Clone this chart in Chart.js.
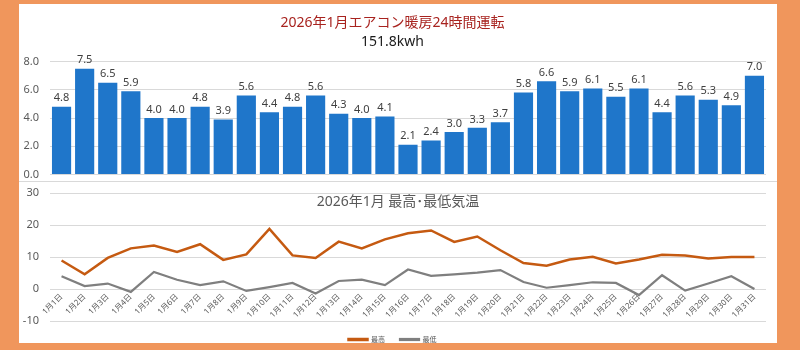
<!DOCTYPE html>
<html><head><meta charset="utf-8">
<script src="https://cdn.jsdelivr.net/npm/chart.js@4"></script>
<style>
html,body{margin:0;padding:0;}
body{width:800px;height:350px;background:#F0965C;position:relative;overflow:hidden;}
#panel{position:absolute;left:19px;top:4px;width:758px;height:339px;background:#fff;}
#c1{position:absolute;left:0;top:0;}
#c2{position:absolute;left:0;top:178px;}
#sep{position:absolute;left:0;top:177px;width:758px;height:1px;background:#D9D9D9;}
</style></head>
<body>
<div id="panel">
<canvas id="c1" width="758" height="177"></canvas>
<div id="sep"></div>
<canvas id="c2" width="758" height="161"></canvas>
</div>
<script>
const categories = ['1月1日','1月2日','1月3日','1月4日','1月5日','1月6日','1月7日','1月8日','1月9日','1月10日',
  '1月11日','1月12日','1月13日','1月14日','1月15日','1月16日','1月17日','1月18日','1月19日','1月20日',
  '1月21日','1月22日','1月23日','1月24日','1月25日','1月26日','1月27日','1月28日','1月29日','1月30日','1月31日'];
const kwh = [4.8,7.5,6.5,5.9,4.0,4.0,4.8,3.9,5.6,4.4,4.8,5.6,4.3,4.0,4.1,2.1,2.4,3.0,3.3,3.7,5.8,6.6,5.9,6.1,5.5,6.1,4.4,5.6,5.3,4.9,7.0];
const tempMax = [8.9,4.6,9.7,12.7,13.6,11.6,14.0,9.1,10.8,18.8,10.5,9.7,14.8,12.7,15.5,17.4,18.3,14.7,16.4,12.1,8.1,7.3,9.2,10.1,8.0,9.2,10.7,10.5,9.5,10.0,10.0];
const tempMin = [4.0,0.9,1.7,-0.9,5.3,2.9,1.2,2.4,-0.6,0.6,1.9,-1.4,2.5,2.9,1.2,6.1,4.1,4.6,5.1,5.9,2.2,0.4,1.2,2.1,1.9,-1.9,4.3,-0.5,1.7,4.0,0.0];
const seriesNames = ['最高','最低'];
const title1 = '2026年1月エアコン暖房24時間運転';
const subtitle1 = '151.8kwh';
const title2 = '2026年1月 最高･最低気温';

const FONT = "'Noto Sans', 'Noto Sans CJK JP', sans-serif";
Chart.defaults.font.family = FONT;
Chart.defaults.color = '#595959';

const barLabels = {
  id: 'barLabels',
  afterDatasetsDraw(chart) {
    const ctx = chart.ctx;
    const meta = chart.getDatasetMeta(0);
    ctx.save();
    ctx.font = '11px ' + FONT;
    ctx.fillStyle = '#404040';
    ctx.textAlign = 'center';
    ctx.textBaseline = 'bottom';
    meta.data.forEach((el, i) => {
      ctx.fillText(chart.data.datasets[0].data[i].toFixed(1), el.x, el.y - 3);
    });
    ctx.restore();
  }
};

new Chart(document.getElementById('c1'), {
  type: 'bar',
  data: { labels: categories, datasets: [{ data: kwh, backgroundColor: '#1F76CA', barPercentage: 0.83, categoryPercentage: 1 }] },
  options: {
    responsive: false, animation: false,
    layout: { padding: { top: 0, right: 11, bottom: 6, left: 0 } },
    plugins: {
      legend: { display: false }, tooltip: { enabled: false },
      title: { display: true, text: title1, color: '#A8231F', font: { size: 14, weight: 'normal', family: FONT }, padding: { top: 11, bottom: 2 } },
      subtitle: { display: true, text: subtitle1, color: '#1a1a1a', font: { size: 14, weight: 'normal', family: FONT }, padding: { top: 0, bottom: 11 } }
    },
    scales: {
      x: { display: false },
      y: {
        min: 0, max: 8,
        ticks: { stepSize: 1, callback: v => v.toFixed(1), font: { size: 11 }, color: '#595959', padding: 0 },
        grid: { color: '#D9D9D9', drawTicks: true, tickLength: 11, tickColor: 'rgba(0,0,0,0)' },
        border: { display: false },
        afterFit(s) { s.width = 31; }
      }
    }
  },
  plugins: [barLabels]
});

const innerTitle = {
  id: 'innerTitle',
  afterDraw(chart) {
    const ctx = chart.ctx;
    ctx.save();
    ctx.font = '14px ' + FONT;
    ctx.fillStyle = '#595959';
    ctx.textAlign = 'center';
    ctx.textBaseline = 'middle';
    ctx.fillText(title2, chart.width / 2, 20);
    ctx.restore();
  }
};

new Chart(document.getElementById('c2'), {
  type: 'line',
  data: { labels: categories, datasets: [
    { label: seriesNames[0], data: tempMax, borderColor: '#C55A11', backgroundColor: '#C55A11', borderWidth: 2.5, pointRadius: 0, tension: 0 },
    { label: seriesNames[1], data: tempMin, borderColor: '#7F7F7F', backgroundColor: '#7F7F7F', borderWidth: 2.2, pointRadius: 0, tension: 0 }
  ]},
  options: {
    responsive: false, animation: false,
    layout: { padding: { top: 11, right: 11, bottom: -10, left: 0 } },
    plugins: {
      tooltip: { enabled: false },
      legend: { position: 'bottom', labels: { boxWidth: 19, boxHeight: 1, font: { size: 7 }, color: '#595959', padding: 15 } }
    },
    scales: {
      x: {
        position: { y: 0 },
        offset: true,
        grid: { display: false, drawTicks: false },
        border: { display: false },
        ticks: { minRotation: 45, maxRotation: 45, font: { size: 8 }, color: '#595959', padding: 3, autoSkip: false }
      },
      y: {
        min: -10, max: 30,
        ticks: { stepSize: 10, font: { size: 11 }, color: '#595959', padding: 0 },
        grid: { color: '#D9D9D9', drawTicks: true, tickLength: 11, tickColor: 'rgba(0,0,0,0)' },
        border: { display: false },
        afterFit(s) { s.width = 31; }
      }
    }
  },
  plugins: [innerTitle]
});
</script>
</body></html>
